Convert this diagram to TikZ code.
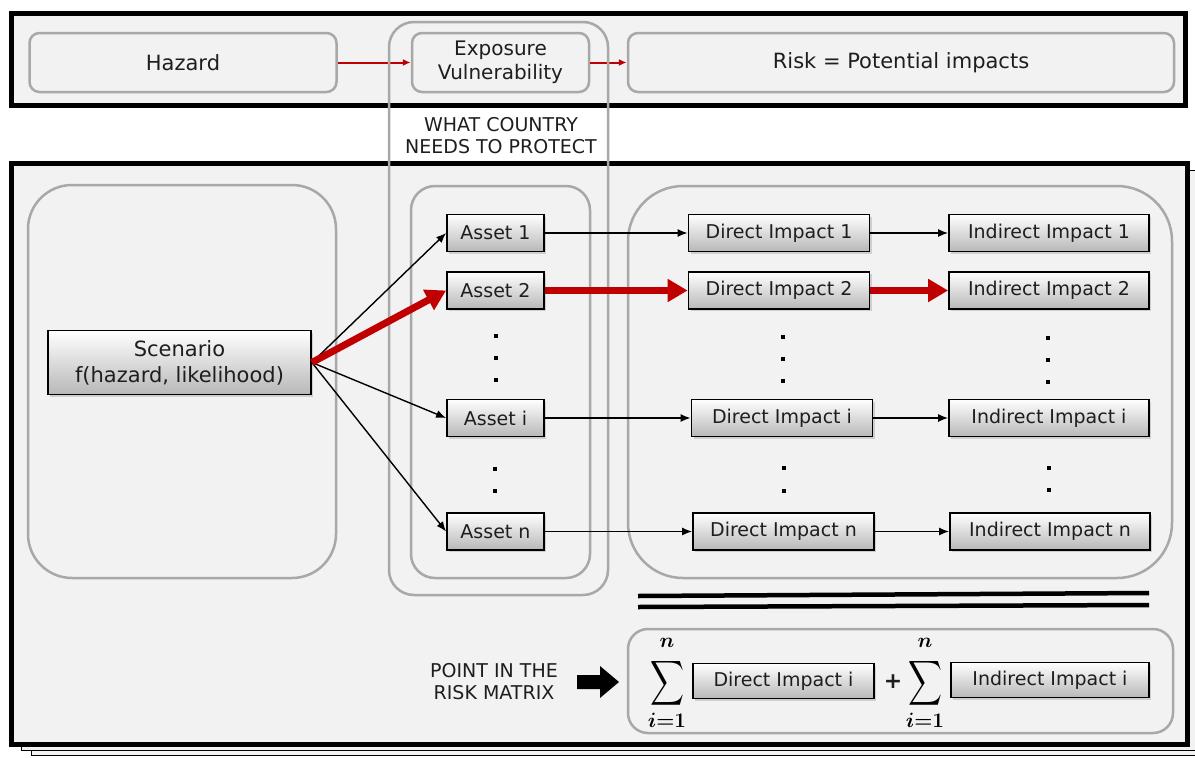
\documentclass[tikz,border=0pt]{standalone}
\usepackage{fontspec}
\setmainfont{DejaVu Sans}
\usepackage{amsmath,bm,graphicx}
\usetikzlibrary{arrows.meta,shadows}
\definecolor{panel}{RGB}{242,242,242}
\definecolor{groupline}{RGB}{168,168,168}
\definecolor{flowred}{RGB}{192,0,0}
\definecolor{ink}{RGB}{30,30,30}

\begin{document}
\begin{tikzpicture}[x=1pt,y=-1pt,
  frame/.style={draw=black,line width=5pt,fill=panel,drop shadow={shadow xshift=3pt,shadow yshift=-3pt,opacity=.25}},
  sheet/.style={draw=black,line width=1pt,fill=panel},
  group/.style={draw=groupline,line width=2.5pt},
  topbox/.style={draw=groupline,line width=2.5pt,rounded corners=10pt,fill=panel,inner sep=0pt,
    minimum height=59pt,text=ink,font=\fontsize{21}{25}\selectfont,align=center},
  item/.style={draw=black,line width=1.8pt,top color=white,bottom color=black!28,inner sep=0pt,
    minimum height=37pt,text=ink,font=\fontsize{19}{22}\selectfont,
    drop shadow={shadow xshift=2pt,shadow yshift=-2pt,opacity=.3}},
  caps/.style={text=ink,font=\fontsize{19}{22}\selectfont,align=center},
  dot/.style={fill=black,inner sep=0pt,minimum size=4pt},
  thin/.style={draw=black,line width=1.4pt,-{Latex[length=10pt,width=8pt]}},
  thick/.style={draw=flowred,line width=7pt,-{Triangle[length=20pt,width=22pt]}},
  link/.style={draw=flowred,line width=2pt,-{Latex[length=8pt,width=7pt]}},
  bigsum/.style={inner sep=0pt},
  limit/.style={inner sep=0pt,font=\fontsize{21}{24}\selectfont},
]
\useasboundingbox (0,0) rectangle (1195,758);

% stacked sheets behind the lower panel
\draw[sheet] (31,174) rectangle (1205,755);
\draw[sheet] (21,170) rectangle (1205,750);

% the two main panels
\draw[frame] (11,13) rectangle (1185,105);
\draw[frame] (11,163) rectangle (1187,744);

% top chain
\node[topbox,minimum width=307pt] (hazard) at (183,62.5) {Hazard};
\node[topbox,minimum width=177pt,font=\fontsize{20}{25}\selectfont] (expo) at (500.5,62.5) {Exposure\\[-1pt]Vulnerability};
\node[topbox,minimum width=546pt] (risk) at (901,62.5) {Risk = Potential impacts};
\draw[link] (hazard) -- (expo);
\draw[link] (expo) -- (risk);

% grouping outlines
\draw[group,rounded corners=25pt] (389,22) rectangle (608,595);
\draw[group,rounded corners=44pt] (28,185) rectangle (336,578);
\draw[group,rounded corners=24pt] (411,186) rectangle (590,578);
\draw[group,rounded corners=55pt] (628,186) rectangle (1172,578);

\node[caps] (protect) at (501,136) {WHAT COUNTRY\\NEEDS TO PROTECT};

% scenario
\node[item,minimum width=263pt,minimum height=64pt,font=\fontsize{21}{26}\selectfont,align=center]
  (scen) at (179.5,362.5) {Scenario\\f(hazard, likelihood)};

% assets
\node[item,minimum width=97pt] (a1) at (495.5,233) {Asset 1};
\node[item,minimum width=97pt] (a2) at (495.5,290.5) {Asset 2};
\node[item,minimum width=97pt] (ai) at (495.5,418) {Asset i};
\node[item,minimum width=97pt] (an) at (495.5,531.5) {Asset n};

% direct impacts
\node[item,minimum width=181pt] (d1) at (779,233) {Direct Impact 1};
\node[item,minimum width=181pt] (d2) at (779,290.5) {Direct Impact 2};
\node[item,minimum width=181pt] (di) at (782,418) {Direct Impact i};
\node[item,minimum width=181pt] (dn) at (783.5,531.5) {Direct Impact n};

% indirect impacts
\node[item,minimum width=200pt] (n1) at (1049,233) {Indirect Impact 1};
\node[item,minimum width=200pt] (n2) at (1049,290.5) {Indirect Impact 2};
\node[item,minimum width=200pt] (ni) at (1049,418) {Indirect Impact i};
\node[item,minimum width=200pt] (nn) at (1050,531.5) {Indirect Impact n};

% ellipsis dots
\node[dot] (ad1) at (496,336) {};
\node[dot] (ad2) at (496,358) {};
\node[dot] (ad3) at (496,380) {};
\node[dot] (ad4) at (495,469) {};
\node[dot] (ad5) at (495,491) {};
\node[dot] (dd1) at (783,337) {};
\node[dot] (dd2) at (783,359) {};
\node[dot] (dd3) at (783,381) {};
\node[dot] (dd4) at (784,468) {};
\node[dot] (dd5) at (784,491) {};
\node[dot] (id1) at (1048,338) {};
\node[dot] (id2) at (1048,360) {};
\node[dot] (id3) at (1048,382) {};
\node[dot] (id4) at (1049,468) {};
\node[dot] (id5) at (1049,490) {};

% flows
\draw[thin] (scen.east) -- (a1.west);
\draw[thin] (scen.east) -- (ai.west);
\draw[thin] (scen.east) -- (an.west);
\draw[thin] (a1) -- (d1);
\draw[thin] (ai) -- (di);
\draw[thin] (an) -- (dn);
\draw[thin] (d1) -- (n1);
\draw[thin] (di) -- (ni);
\draw[thin] (dn) -- (nn);
\draw[thick] (scen.east) -- (a2.west);
\draw[thick] (a2) -- (d2);
\draw[thick] (d2) -- (n2);

% separator
\draw[line width=4.5pt] (638,596) -- (1149,593);
\draw[line width=4.5pt] (638,607) -- (1149,605);

% aggregate
\draw[group,rounded corners=20pt] (628,629) rectangle (1173,733);
\node[caps] (point) at (494,682) {POINT IN THE\\RISK MATRIX};
\fill[black] (577,675) -- (600,675) -- (600,666) -- (619,682) -- (600,698) -- (600,689) -- (577,689) -- cycle;

\node[bigsum] (s1) at (667,683) {\resizebox*{34pt}{50pt}{$\displaystyle\sum$}};
\node[limit] (s1top) at (667,643) {$\bm{n}$};
\node[limit] (s1bot) at (667,720) {$\bm{i{=}1}$};
\node[item,minimum width=181pt,minimum height=35pt] (sdi) at (783.5,681) {Direct Impact i};
\node[inner sep=0pt,text=ink,font=\fontsize{22}{24}\selectfont\bfseries] (plus) at (893,682) {+};
\node[bigsum] (s2) at (925,683) {\resizebox*{34pt}{50pt}{$\displaystyle\sum$}};
\node[limit] (s2top) at (925,643) {$\bm{n}$};
\node[limit] (s2bot) at (925,720) {$\bm{i{=}1}$};
\node[item,minimum width=198pt,minimum height=35pt] (sii) at (1050,680) {Indirect Impact i};
\end{tikzpicture}
\end{document}
